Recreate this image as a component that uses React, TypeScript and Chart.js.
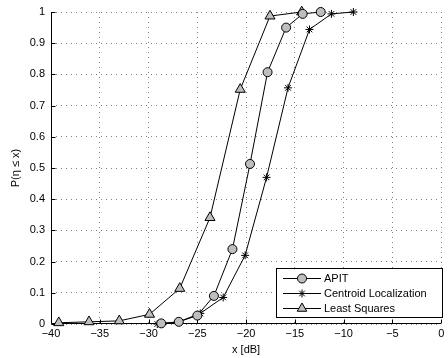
import React, { useEffect, useRef } from "react";
import { Chart, registerables } from "chart.js";

Chart.register(...registerables);

const apitX = [-28.7, -26.9, -25.0, -23.3, -21.4, -19.6, -17.8, -15.9, -14.2, -12.35];
const apitY = [0.002, 0.007, 0.027, 0.09, 0.24, 0.513, 0.807, 0.95, 0.994, 1.0];
const centroidX = [-29.1, -26.9, -24.7, -22.35, -20.1, -17.9, -15.7, -13.5, -11.25, -9.0];
const centroidY = [0.0, 0.007, 0.034, 0.085, 0.22, 0.47, 0.757, 0.944, 0.994, 1.0];
const lsX = [-39.2, -36.1, -33.0, -29.9, -26.8, -23.7, -20.6, -17.55, -14.3];
const lsY = [0.004, 0.007, 0.01, 0.031, 0.114, 0.341, 0.752, 0.987, 1.0];

const seriesNames = ["APIT", "Centroid Localization", "Least Squares"];
const xTitle = "x [dB]";
const yTitle = "P(\u03b7 \u2264 x)";

const FONT = "'Liberation Sans', Arial, Helvetica, sans-serif";
const GRAY = "rgb(190,190,190)";

const toPts = (xs: number[], ys: number[]) => xs.map((x, i) => ({ x, y: ys[i] }));

const axesPlugin = {
  id: "solidAxes",
  beforeDatasetsDraw(chart: any) {
    const ctx = chart.ctx as CanvasRenderingContext2D;
    const xs = chart.scales.x;
    const ys = chart.scales.y;
    const ca = chart.chartArea;
    ctx.save();
    ctx.strokeStyle = "#000";
    ctx.lineWidth = 1;
    ctx.setLineDash([]);
    ctx.beginPath();
    const L = Math.round(ca.left) + 0.5;
    const B = Math.round(ca.bottom) - 0.5;
    ctx.moveTo(L, Math.round(ca.top));
    ctx.lineTo(L, B);
    ctx.lineTo(Math.round(ca.right), B);
    xs.ticks.forEach((t: any) => {
      const px = Math.round(xs.getPixelForValue(t.value)) + 0.5;
      ctx.moveTo(px, B);
      ctx.lineTo(px, B - 4);
    });
    ys.ticks.forEach((t: any) => {
      const py = Math.round(ys.getPixelForValue(t.value)) + 0.5;
      ctx.moveTo(L, py);
      ctx.lineTo(L + 4, py);
    });
    ctx.stroke();
    ctx.restore();
  },
};

const legendPlugin = {
  id: "customLegend",
  afterDraw(chart: any) {
    const ctx = chart.ctx as CanvasRenderingContext2D;
    ctx.save();
    ctx.setLineDash([]);
    const bx = 276.5, by = 268.5, bw = 166, bh = 49;
    ctx.fillStyle = "#fff";
    ctx.fillRect(bx, by, bw, bh);
    ctx.strokeStyle = "#000";
    ctx.lineWidth = 1;
    ctx.strokeRect(bx, by, bw, bh);
    const rows = [278.5, 293.5, 308.5];
    ctx.font = `11px ${FONT}`;
    ctx.textBaseline = "middle";
    ctx.textAlign = "left";
    rows.forEach((ry, i) => {
      ctx.strokeStyle = "#000";
      ctx.beginPath();
      ctx.moveTo(283, ry);
      ctx.lineTo(321, ry);
      ctx.stroke();
      const cx = 302;
      ctx.fillStyle = GRAY;
      ctx.beginPath();
      if (i === 0) {
        ctx.arc(cx, ry, 4.5, 0, Math.PI * 2);
        ctx.fill();
        ctx.stroke();
      } else if (i === 1) {
        const r = 4;
        ctx.moveTo(cx - r, ry); ctx.lineTo(cx + r, ry);
        ctx.moveTo(cx, ry - r); ctx.lineTo(cx, ry + r);
        const d = r * 0.707;
        ctx.moveTo(cx - d, ry - d); ctx.lineTo(cx + d, ry + d);
        ctx.moveTo(cx - d, ry + d); ctx.lineTo(cx + d, ry - d);
        ctx.stroke();
      } else {
        const r = 5.5;
        ctx.moveTo(cx, ry - r);
        ctx.lineTo(cx + r * 0.866, ry + r * 0.5);
        ctx.lineTo(cx - r * 0.866, ry + r * 0.5);
        ctx.closePath();
        ctx.fill();
        ctx.stroke();
      }
      ctx.fillStyle = "#000";
      ctx.fillText(seriesNames[i], 324, ry + 0.5);
    });
    ctx.restore();
  },
};

export default function App() {
  const ref = useRef<HTMLCanvasElement | null>(null);
  useEffect(() => {
    if (!ref.current) return;
    const minus = (v: any) => String(v).replace("-", "\u2212");
    const common = {
      showLine: true,
      borderColor: "#000",
      borderWidth: 1,
      pointBackgroundColor: GRAY,
      pointBorderColor: "#000",
      pointBorderWidth: 1,
      clip: false,
    };
    const chart = new Chart(ref.current, {
      type: "scatter",
      data: {
        datasets: [
          { ...common, label: seriesNames[0], data: toPts(apitX, apitY), pointStyle: "circle", pointRadius: 4.5 },
          { ...common, label: seriesNames[1], data: toPts(centroidX, centroidY), pointStyle: "star", pointRadius: 4 },
          { ...common, label: seriesNames[2], data: toPts(lsX, lsY), pointStyle: "triangle", pointRadius: 5.8 },
        ],
      },
      options: {
        animation: false,
        responsive: false,
        layout: { padding: { top: 12, right: 1, left: 0, bottom: 0 } },
        plugins: { legend: { display: false }, tooltip: { enabled: false } },
        scales: {
          x: {
            type: "linear",
            min: -40,
            max: 0,
            ticks: {
              stepSize: 5,
              callback: minus,
              color: "#000",
              font: { family: FONT, size: 11 },
              padding: 3,
              maxRotation: 0,
            },
            grid: { color: "rgba(0,0,0,0.5)", drawTicks: false, lineWidth: 1 },
            border: { display: false, dash: [1, 4] },
            title: {
              display: true,
              text: xTitle,
              color: "#000",
              font: { family: FONT, size: 11 },
              padding: { top: 0, bottom: 1.5 },
            },
            afterFit: (s: any) => {
              s.height = 34;
              s.paddingRight = 0;
              s.paddingLeft = 0;
            },
          },
          y: {
            type: "linear",
            min: 0,
            max: 1,
            ticks: {
              stepSize: 0.1,
              callback: (v: any) => String(Math.round(v * 10) / 10),
              color: "#000",
              font: { family: FONT, size: 11 },
              padding: 6,
            },
            grid: { color: "rgba(0,0,0,0.5)", drawTicks: false, lineWidth: 1 },
            border: { display: false, dash: [1, 4] },
            title: {
              display: true,
              text: yTitle,
              color: "#000",
              font: { family: FONT, size: 11 },
              padding: { top: 9, bottom: 0 },
            },
            afterFit: (s: any) => {
              s.width = 51;
              s.paddingTop = 0;
              s.paddingBottom = 0;
            },
          },
        },
      },
      plugins: [axesPlugin, legendPlugin],
    } as any);
    return () => chart.destroy();
  }, []);
  return (
    <div style={{ position: "absolute", left: 0, top: 0, width: 448, height: 358, background: "#fff" }}>
      <canvas ref={ref} width={448} height={358} style={{ display: "block" }} />
    </div>
  );
}
